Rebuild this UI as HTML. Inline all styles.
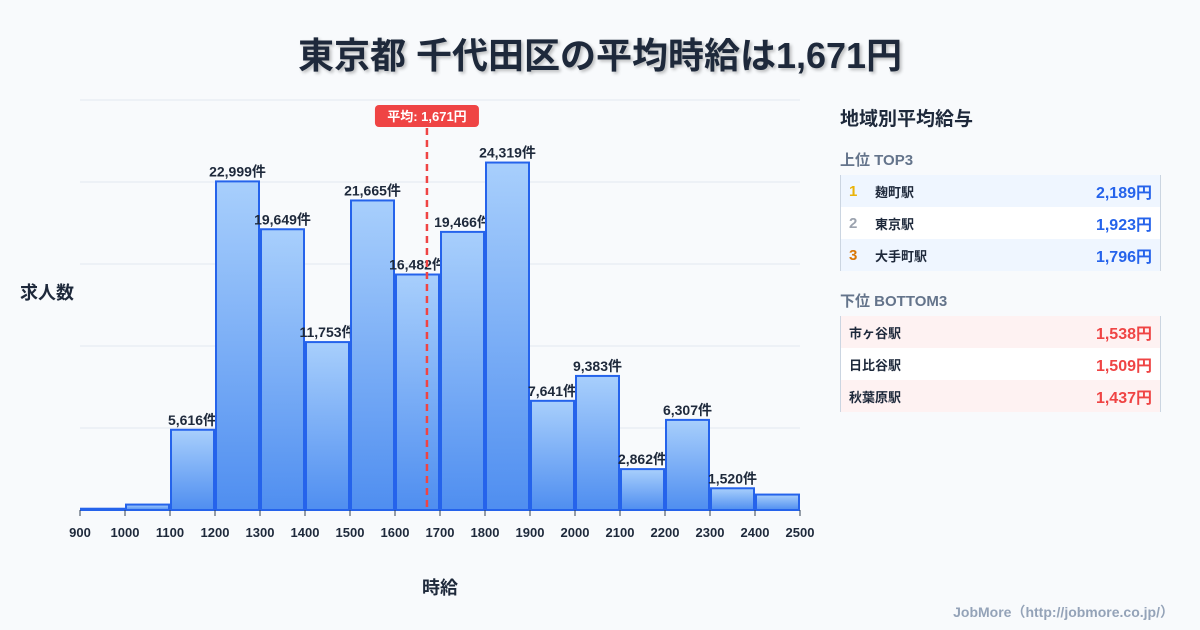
<!DOCTYPE html>
<html><head><meta charset="utf-8">
<style>
body{margin:0;background:#f8fafc;font-family:"Liberation Sans","Noto Sans CJK JP",sans-serif;}
#wrap{position:relative;width:1200px;height:630px;overflow:hidden;background:#f8fafc}
.title{position:absolute;left:0;width:1200px;top:27px;text-align:center;font-size:36px;font-weight:bold;color:#1e293b;text-shadow:2px 2px 3px rgba(0,0,0,0.25)}
.panel{position:absolute;left:840px;top:100px;width:320px}
.ph{font-size:19px;font-weight:bold;color:#1e293b;position:absolute;top:4px;left:0}
.sh{font-size:15px;font-weight:bold;color:#64748b;position:absolute;left:0}
.box{position:absolute;left:0;width:319px;border-left:1px solid #cbd5e1;border-right:1px solid #cbd5e1}
.row{height:32px;display:flex;align-items:center;font-size:13px;font-weight:bold;color:#1e293b;position:relative}
.rk{width:26px;padding-left:8px;font-size:15px}
.val{position:absolute;right:8px;font-size:16px}
.foot{position:absolute;right:26px;top:602px;font-size:14px;color:#94a3b8;font-weight:bold}
</style></head><body>
<div id="wrap">
<div class="title">東京都 千代田区の平均時給は1,671円</div>
<svg id="chart" width="820" height="630" style="position:absolute;left:0;top:0">
<defs><linearGradient id="g" x1="0" y1="0" x2="0" y2="1"><stop offset="0" stop-color="#a8cffc"/><stop offset="1" stop-color="#4f8ef0"/></linearGradient></defs>
</svg>
<div class="panel">
<div class="ph">地域別平均給与</div>
<div class="sh" style="top:49px">上位 TOP3</div>
<div class="box" style="top:75px">
<div class="row" style="background:#eff6ff"><span class="rk" style="color:#eab308">1</span>麹町駅<span class="val" style="color:#2563eb">2,189円</span></div>
<div class="row" style="background:#fff"><span class="rk" style="color:#9ca3af">2</span>東京駅<span class="val" style="color:#2563eb">1,923円</span></div>
<div class="row" style="background:#eff6ff"><span class="rk" style="color:#d97706">3</span>大手町駅<span class="val" style="color:#2563eb">1,796円</span></div>
</div>
<div class="sh" style="top:190px">下位 BOTTOM3</div>
<div class="box" style="top:216px">
<div class="row" style="background:#fef2f2;padding-left:8px">市ヶ谷駅<span class="val" style="color:#ef4444">1,538円</span></div>
<div class="row" style="background:#fff;padding-left:8px">日比谷駅<span class="val" style="color:#ef4444">1,509円</span></div>
<div class="row" style="background:#fef2f2;padding-left:8px">秋葉原駅<span class="val" style="color:#ef4444">1,437円</span></div>
</div>
</div>
<div class="foot">JobMore（http://jobmore.co.jp/）</div>
</div>
<script>
const binStarts=[900,1000,1100,1200,1300,1400,1500,1600,1700,1800,1900,2000,2100,2200,2300,2400];
const counts=[90,380,5616,22999,19649,11753,21665,16482,19466,24319,7641,9383,2862,6307,1520,1080];
const showLabel=[false,false,true,true,true,true,true,true,true,true,true,true,true,true,true,false];
const xTicks=[900,1000,1100,1200,1300,1400,1500,1600,1700,1800,1900,2000,2100,2200,2300,2400,2500];
const meanValue=1671;
const meanLabel="平均: 1,671円";
const NS="http://www.w3.org/2000/svg";
const svg=document.getElementById('chart');
const x0=80,x1=800,y0=510,y1=100;
const xmin=900,xmax=2500,ymax=Math.max(...counts)*1.18;
const X=v=>x0+(v-xmin)/(xmax-xmin)*(x1-x0);
const Y=v=>y0-v/ymax*(y0-y1);
function mk(t,a){const e=document.createElementNS(NS,t);for(const k in a)e.setAttribute(k,a[k]);svg.appendChild(e);return e;}
for(let i=0;i<=5;i++){const y=y0-i*(y0-y1)/5;const l=mk('line',{x1:x0,x2:x1,y1:y,y2:y,stroke:'#e2e8f0','stroke-width':1});

}
binStarts.forEach((b,i)=>{const xa=X(b),xb=X(b+100),y=Y(counts[i]);
const r=mk('rect',{x:xa+1,y:y,width:xb-xa-2,height:y0-y,fill:'url(#g)',stroke:'#2563eb','stroke-width':2});


if(showLabel[i]){const t=mk('text',{x:(xa+xb)/2,y:y-5,'text-anchor':'middle','font-size':14,'font-weight':'bold',fill:'#1e293b'});
t.textContent=counts[i].toLocaleString('en-US')+'件';

}});
xTicks.forEach(v=>{const x=X(v);const l=mk('line',{x1:x,x2:x,y1:y0,y2:y0+6,stroke:'#334155','stroke-width':1});


const t=mk('text',{x:x,y:537,'text-anchor':'middle','font-size':13,'font-weight':'bold',fill:'#1e293b'});t.textContent=v;

});
const mx=X(meanValue);
const ml=mk('line',{x1:mx,x2:mx,y1:128,y2:y0,stroke:'#ef4444','stroke-width':2.5,'stroke-dasharray':'7,5'});


const mr=mk('rect',{x:mx-52,y:105,width:104,height:22,rx:4,fill:'#ef4444'});


const mt=mk('text',{x:mx,y:121,'text-anchor':'middle','font-size':13,'font-weight':'bold',fill:'#fff'});mt.textContent=meanLabel;


const yt=mk('text',{x:20,y:299,'font-size':18,'font-weight':'bold',fill:'#1e293b'});yt.textContent='求人数';


const xt=mk('text',{x:440,y:594,'text-anchor':'middle','font-size':18,'font-weight':'bold',fill:'#1e293b'});xt.textContent='時給';


</script>
</body></html>
